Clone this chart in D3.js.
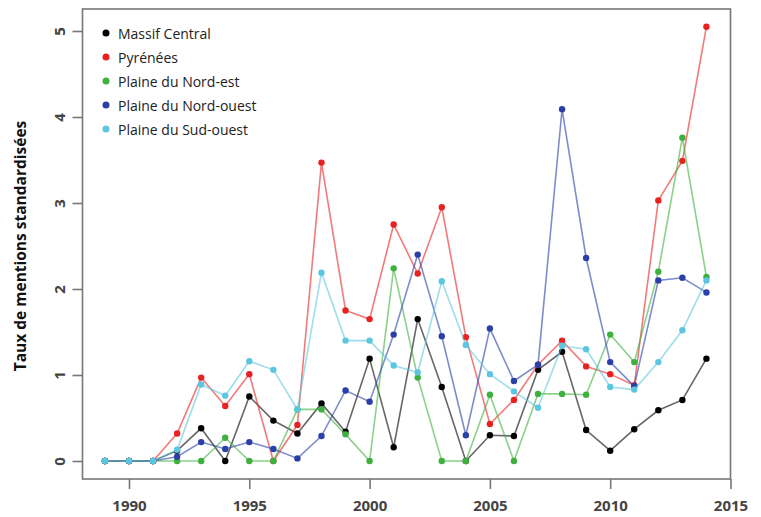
<!DOCTYPE html>
<html>
<head>
<meta charset="utf-8">
<script src="https://cdn.jsdelivr.net/npm/d3@7"></script>
<style>
  body { margin: 0; background: #fff; }
  text { font-family: "Open Sans", sans-serif; }
</style>
</head>
<body>
<div class="chart"></div>
<script>
var svgWidth = 761;
var svgHeight = 517;

// years and series values (taux de mentions standardisées)
var years = [1989, 1990, 1991, 1992, 1993, 1994, 1995, 1996, 1997, 1998, 1999, 2000, 2001,
  2002, 2003, 2004, 2005, 2006, 2007, 2008, 2009, 2010, 2011, 2012, 2013, 2014];

var massifCentral = [0, 0, 0, 0.12, 0.38, 0, 0.75, 0.47, 0.32, 0.67, 0.34, 1.19, 0.16,
  1.65, 0.86, 0, 0.30, 0.29, 1.06, 1.27, 0.36, 0.12, 0.37, 0.59, 0.71, 1.19];
var pyrenees = [0, 0, 0, 0.32, 0.97, 0.64, 1.01, 0, 0.42, 3.47, 1.75, 1.65, 2.75,
  2.18, 2.95, 1.44, 0.43, 0.71, 1.12, 1.40, 1.10, 1.01, 0.88, 3.03, 3.49, 5.05];
var nordEst = [0, 0, 0, 0, 0, 0.27, 0, 0, 0.60, 0.60, 0.31, 0, 2.24,
  0.97, 0, 0, 0.77, 0, 0.78, 0.78, 0.77, 1.47, 1.15, 2.20, 3.76, 2.14];
var nordOuest = [0, 0, 0, 0.05, 0.22, 0.14, 0.22, 0.14, 0.03, 0.29, 0.82, 0.69, 1.47,
  2.40, 1.45, 0.30, 1.54, 0.93, 1.12, 4.09, 2.36, 1.15, 0.87, 2.10, 2.13, 1.96];
var sudOuest = [0, 0, 0, 0.13, 0.89, 0.76, 1.16, 1.06, 0.60, 2.19, 1.40, 1.40, 1.11,
  1.03, 2.09, 1.35, 1.01, 0.81, 0.62, 1.34, 1.30, 0.86, 0.83, 1.15, 1.52, 2.10];

var seriesNames = ["Massif Central", "Pyrénées", "Plaine du Nord-est", "Plaine du Nord-ouest", "Plaine du Sud-ouest"];
var seriesColors = ["#000000", "#e82222", "#3db03d", "#2a3fa8", "#5cc6e0"];
var seriesValues = [massifCentral, pyrenees, nordEst, nordOuest, sudOuest];

var xTicks = [1990, 1995, 2000, 2005, 2010, 2015];
var yTicks = [0, 1, 2, 3, 4, 5];

var box = { left: 82.5, right: 730.5, top: 9, bottom: 479 };

var svg = d3.select(".chart")
  .append("svg")
  .attr("width", svgWidth)
  .attr("height", svgHeight);

var xScale = d3.scaleLinear()
  .domain([1990, 2015])
  .range([129, 730.5]);

var yScale = d3.scaleLinear()
  .domain([0, 5])
  .range([461, 31]);

// plot frame
svg.append("rect")
  .attr("x", box.left)
  .attr("y", box.top)
  .attr("width", box.right - box.left)
  .attr("height", box.bottom - box.top)
  .attr("fill", "none")
  .attr("stroke", "#777")
  .attr("stroke-width", 1.6);

// x axis
var bottomAxis = d3.axisBottom(xScale)
  .tickValues(xTicks)
  .tickFormat(d3.format("d"))
  .tickSizeOuter(0)
  .tickSizeInner(10)
  .tickPadding(11);

var xAxis = svg.append("g")
  .attr("transform", `translate(0, ${box.bottom})`)
  .call(bottomAxis);
xAxis.select(".domain").remove();

// y axis
var leftAxis = d3.axisLeft(yScale)
  .tickValues(yTicks)
  .tickFormat(d3.format("d"))
  .tickSizeOuter(0)
  .tickSizeInner(10);

var yAxis = svg.append("g")
  .attr("transform", `translate(${box.left}, 0)`)
  .call(leftAxis);
yAxis.select(".domain").remove();

yAxis.selectAll(".tick text")
  .attr("x", 0)
  .attr("dy", 0)
  .attr("text-anchor", "middle")
  .attr("transform", "translate(-24, 0) rotate(-90)")
  .attr("dominant-baseline", "central");

svg.selectAll(".tick line")
  .attr("stroke", "#777")
  .attr("stroke-width", 1.6);

svg.selectAll(".tick text")
  .style("font-size", "15px")
  .style("font-weight", 700)
  .attr("fill", "#444");

// y axis label
svg.append("text")
  .attr("transform", `translate(20, ${(31 + 461) / 2}) rotate(-90)`)
  .attr("text-anchor", "middle")
  .attr("dominant-baseline", "central")
  .style("font-size", "15.5px")
  .style("font-weight", 700)
  .attr("fill", "#111")
  .text("Taux de mentions standardisées");

// series lines and points
var line = d3.line()
  .x((d, i) => xScale(years[i]))
  .y(d => yScale(d));

seriesValues.forEach(function(vals, s) {
  var g = svg.append("g").classed("series", true);
  g.append("path")
    .datum(vals)
    .attr("d", line)
    .attr("fill", "none")
    .attr("stroke", seriesColors[s])
    .attr("stroke-opacity", 0.6)
    .attr("stroke-width", 1.6);
  g.selectAll("circle")
    .data(vals)
    .enter()
    .append("circle")
    .attr("cx", (d, i) => xScale(years[i]))
    .attr("cy", d => yScale(d))
    .attr("r", 3.2)
    .attr("fill", seriesColors[s]);
});

// legend
var legend = svg.append("g")
  .attr("transform", "translate(106, 33)");

var legendItems = legend.selectAll("g")
  .data(seriesNames)
  .enter()
  .append("g")
  .attr("transform", (d, i) => `translate(0, ${i * 24})`);

legendItems.append("circle")
  .attr("r", 3.5)
  .attr("fill", (d, i) => seriesColors[i]);

legendItems.append("text")
  .attr("x", 12)
  .attr("dominant-baseline", "central")
  .style("font-size", "14px")
  .attr("fill", "#222")
  .text(d => d);
</script>
</body>
</html>
